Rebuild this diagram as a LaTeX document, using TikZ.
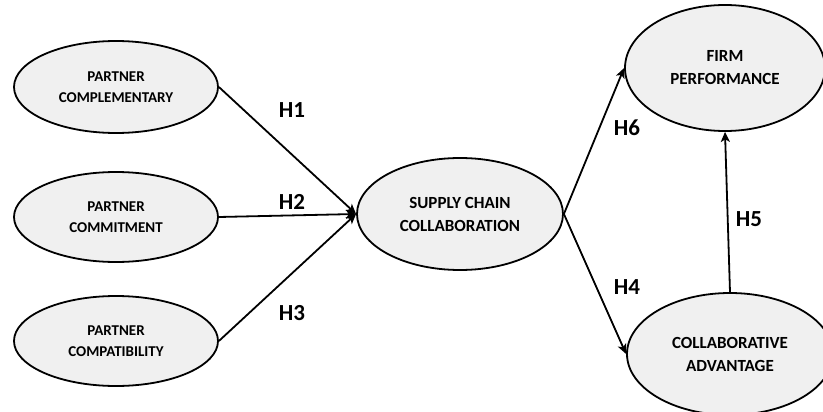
\documentclass[tikz,border=0pt]{standalone}
\usepackage{fontspec}
\setmainfont{Carlito}
\usetikzlibrary{shapes.geometric,arrows.meta}
\tikzset{
  construct/.style={ellipse, draw=black, line width=1.8pt, fill=black!6,
    inner sep=0pt, align=center, font=\bfseries\fontsize{15}{21}\selectfont},
  bigconstruct/.style={construct, font=\bfseries\fontsize{17}{23}\selectfont},
  path/.style={line width=1.8pt, -{Stealth[length=10pt,width=9pt,inset=2.5pt]}},
  hyp/.style={font=\bfseries\fontsize{23}{27}\selectfont}
}
\begin{document}
\begin{tikzpicture}[x=1pt,y=-1pt]
\useasboundingbox (0,0) rectangle (823,412);
% exogenous constructs
\node[construct, minimum width=204pt, minimum height=92pt] (pcomp) at (116,87) {PARTNER\\COMPLEMENTARY};
\node[construct, minimum width=204pt, minimum height=90pt] (pcomm) at (116,217) {PARTNER\\COMMITMENT};
\node[construct, minimum width=204pt, minimum height=90pt] (pcompat) at (116,341) {PARTNER\\COMPATIBILITY};
% mediator
\node[bigconstruct, minimum width=206pt, minimum height=112pt] (scc) at (460,214) {SUPPLY CHAIN\\COLLABORATION};
% outcomes
\node[bigconstruct, minimum width=200pt, minimum height=126pt] (fp) at (725,68) {FIRM\\PERFORMANCE};
\node[bigconstruct, minimum width=206pt, minimum height=122pt] (ca) at (730,354) {COLLABORATIVE\\ADVANTAGE};
% hypothesised paths
\draw[path] (pcomp.east) -- (scc.west);
\draw[path] (pcomm.east) -- (scc.west);
\draw[path] (pcompat.east) -- (scc.west);
\draw[path] (scc.east) -- (fp.west);
\draw[path] (scc.east) -- (ca.west);
\draw[path] (ca.north) -- (fp.south);
% hypothesis labels
\node[hyp] (h1) at (292,110) {H1};
\node[hyp] (h2) at (292,202) {H2};
\node[hyp] (h3) at (292,313) {H3};
\node[hyp] (h6) at (627,128) {H6};
\node[hyp] (h4) at (627,287) {H4};
\node[hyp] (h5) at (749,219) {H5};
\end{tikzpicture}
\end{document}
